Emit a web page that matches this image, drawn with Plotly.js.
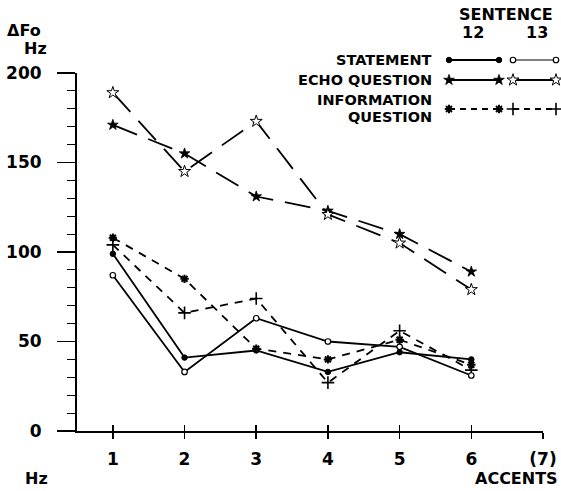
<!DOCTYPE html>
<html>
<head>
<meta charset="utf-8">
<script src="https://cdn.plot.ly/plotly-3.0.1.min.js"></script>
<style>html,body{margin:0;padding:0;background:#fff}#chart{width:561px;height:491px}</style>
</head>
<body>
<div id="chart"></div>
<script>
// ---- data ----
const accents = [1, 2, 3, 4, 5, 6];
const statement12 = [99, 41, 45, 33, 44, 40];
const statement13 = [87, 33, 63, 50, 47, 31];
const echo12 = [171, 155, 131, 123, 110, 89];
const echo13 = [189, 145, 173, 121, 105, 79];
const info12 = [108, 85, 46, 40, 51, 37];
const info13 = [104, 66, 74, 27, 56, 34];
const xTickVals = [1, 2, 3, 4, 5, 6, 7];
const xTickText = ['1', '2', '3', '4', '5', '6', '(7)'];
const yTickVals = [0, 50, 100, 150, 200];

// ---- layout helpers ----
const W = 561, H = 491, L = 77, R = 0, T = 40, B = 60;
const PW = W - L - R, PH = H - T - B;
const px = x => (x - L) / PW;
const py = y => (H - B - y) / PH;
const FONT = '"DejaVu Sans", Arial, sans-serif';
const K = '#000';

const solid = {color: K, width: 1.8};
const longDash = {color: K, width: 1.8, dash: '26px,12px'};
const shortDash = {color: K, width: 1.8, dash: '8px,7px'};

const mFilledCircle = {symbol: 'circle', size: 5.5, color: K, line: {color: K, width: 1}};
const mOpenCircle = {symbol: 'circle', size: 5.5, color: '#fff', line: {color: K, width: 1.2}};
const mFilledStar = {symbol: 'star', size: 8, color: K, line: {color: K, width: 0.8}};
const mOpenStar = {symbol: 'star', size: 9, color: '#fff', line: {color: K, width: 1}};
const mAsterisk = {symbol: 'asterisk-open', size: 7, color: K, line: {color: K, width: 2}};
const mPlus = {symbol: 'cross-thin-open', size: 9, color: K, line: {color: K, width: 1.6}};

function series(y, line, marker) {
  return {x: accents, y: y, mode: 'lines+markers', line: line, marker: marker,
          cliponaxis: false, showlegend: false, hoverinfo: 'skip'};
}

const traces = [
  series(echo12, longDash, mFilledStar),
  series(echo13, longDash, mOpenStar),
  series(info12, shortDash, mAsterisk),
  series(info13, shortDash, mPlus),
  series(statement12, solid, mFilledCircle),
  series(statement13, solid, mOpenCircle),
  // overlay axis carrying the inner half of the crossing x ticks
  {x: [null], y: [null], xaxis: 'x3', yaxis: 'y', showlegend: false, hoverinfo: 'skip'}
];

// legend samples (pixel coordinates in a hidden helper subplot)
function sample(x0, x1, y, line, marker) {
  return {x: [x0, x1], y: [y, y], xaxis: 'x2', yaxis: 'y2', mode: 'lines+markers',
          line: line, marker: marker, cliponaxis: false, showlegend: false, hoverinfo: 'skip'};
}
const c12 = [449, 499], c13 = [513, 556];
traces.push(
  sample(c12[0], c12[1], 60, solid, mFilledCircle),
  sample(c13[0], c13[1], 60, {color: K, width: 1.2}, mOpenCircle),
  sample(c12[0], c12[1], 80, solid, mFilledStar),
  sample(c13[0], c13[1], 80, solid, mOpenStar),
  sample(c12[0], c12[1], 109, {color: K, width: 1.8, dash: '6px,5px'}, mAsterisk),
  sample(c13[0], c13[1], 109, {color: K, width: 1.8, dash: '6px,5px'}, mPlus)
);

function txt(text, x, y, xanchor, size) {
  return {text: text, x: px(x), y: py(y), xref: 'paper', yref: 'paper', xanchor: xanchor,
          yanchor: 'middle', showarrow: false, font: {family: FONT, size: size || 16, color: K, weight: 700}};
}

const layout = {
  width: W, height: H,
  margin: {l: L, r: R, t: T, b: B, pad: 0},
  paper_bgcolor: '#fff', plot_bgcolor: '#fff',
  font: {family: FONT, color: K, weight: 700},
  xaxis: {
    domain: [0, px(543)], range: [0.5, 7], anchor: 'y',
    showgrid: false, zeroline: false, showline: true, linecolor: K, linewidth: 2,
    ticks: 'outside', ticklen: 6, tickwidth: 1.5, tickcolor: K,
    tickvals: xTickVals, ticktext: xTickText, ticklabelstandoff: 6,
    tickfont: {family: FONT, size: 17, color: K, weight: 700}
  },
  xaxis3: {
    overlaying: 'x', domain: [0, px(543)], range: [0.5, 7], anchor: 'y',
    showgrid: false, zeroline: false, showline: false,
    ticks: 'inside', ticklen: 6, tickwidth: 1.5, tickcolor: K,
    tickvals: xTickVals, showticklabels: false
  },
  yaxis: {
    domain: [0, py(73)], range: [0, 200], anchor: 'x',
    showgrid: false, zeroline: false, showline: true, linecolor: K, linewidth: 2,
    ticks: 'outside', ticklen: 18, tickwidth: 1.5, tickcolor: K,
    tickvals: yTickVals, ticklabelstandoff: 12,
    tickfont: {family: FONT, size: 17, color: K, weight: 700},
    minor: {ticks: 'outside', ticklen: 8, tickwidth: 1, tickcolor: K, dtick: 10, showgrid: false}
  },
  xaxis2: {domain: [px(440), 1], range: [440, 561], anchor: 'y2', visible: false, fixedrange: true},
  yaxis2: {domain: [py(125), py(45)], range: [125, 45], anchor: 'x2', visible: false, fixedrange: true},
  annotations: [
    txt('ΔFo', 5, 30, 'left', 16),
    txt('Hz', 22, 48, 'left', 16),
    txt('Hz', 23, 478, 'left', 16),
    txt('ACCENTS', 560, 478, 'right', 16),
    txt('SENTENCE', 506, 15, 'center', 16),
    txt('12', 473, 32, 'center', 16),
    txt('13', 537, 32, 'center', 16),
    txt('STATEMENT', 434, 60, 'right', 14.5),
    txt('ECHO QUESTION', 434, 80, 'right', 14.5),
    txt('INFORMATION', 434, 100, 'right', 14.5),
    txt('QUESTION', 434, 117, 'right', 14.5)
  ]
};

Plotly.newPlot('chart', traces, layout, {staticPlot: true, displayModeBar: false});
</script>
</body>
</html>
